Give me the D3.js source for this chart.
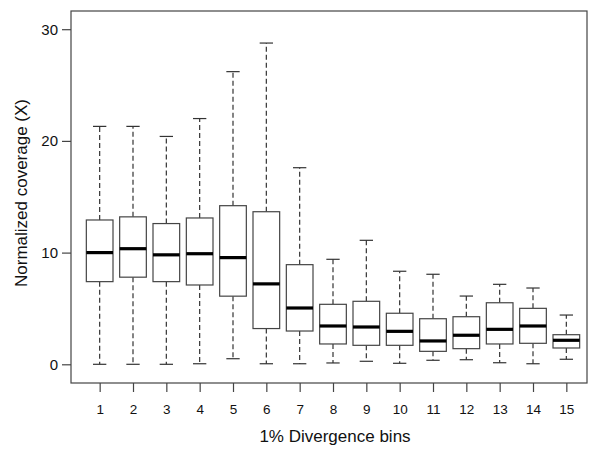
<!DOCTYPE html>
<html>
<head>
<meta charset="utf-8">
<script src="https://cdn.jsdelivr.net/npm/d3@7"></script>
<style>
  html, body { margin: 0; padding: 0; background: #fff; }
  svg { display: block; font-family: "Liberation Sans", Arial, sans-serif; }
</style>
</head>
<body>
<svg id="chart" width="600" height="452"></svg>
<script>
const bins      = [1, 2, 3, 4, 5, 6, 7, 8, 9, 10, 11, 12, 13, 14, 15];
const whiskLow  = [0.0, 0.0, 0.0, 0.05, 0.5, 0.05, 0.05, 0.12, 0.27, 0.09, 0.36, 0.41, 0.14, 0.05, 0.45];
const q1        = [7.4, 7.8, 7.4, 7.1, 6.1, 3.2, 2.98, 1.82, 1.7, 1.7, 1.16, 1.4, 1.82, 1.88, 1.46];
const medians   = [10.0, 10.35, 9.8, 9.9, 9.55, 7.2, 5.04, 3.43, 3.34, 2.95, 2.09, 2.6, 3.13, 3.43, 2.15];
const q3        = [12.92, 13.2, 12.6, 13.1, 14.2, 13.66, 8.92, 5.37, 5.64, 4.57, 4.08, 4.26, 5.51, 5.01, 2.65];
const whiskHigh = [21.3, 21.3, 20.4, 22.0, 26.2, 28.76, 17.6, 9.4, 11.1, 8.33, 8.06, 6.11, 7.16, 6.83, 4.41];
const yTicks    = [0, 10, 20, 30];
const xLabel    = "1% Divergence bins";
const yLabel    = "Normalized coverage (X)";

const data = bins.map((b, i) => ({
  bin: b, lo: whiskLow[i], q1: q1[i], med: medians[i], q3: q3[i], hi: whiskHigh[i]
}));

const svg = d3.select("#chart");
const plot = { left: 71, top: 11, right: 587, bottom: 383 };

const x = d3.scaleLinear().domain([0.14, 15.62]).range([plot.left, plot.right]);
const y = d3.scaleLinear().domain([0, 30]).range([364.3, 29.2]);
const step = x(2) - x(1);
const boxW = step * 0.8;
const capW = boxW / 2;

// frame
svg.append("rect")
  .attr("x", plot.left).attr("y", plot.top)
  .attr("width", plot.right - plot.left).attr("height", plot.bottom - plot.top)
  .attr("fill", "none").attr("stroke", "#444").attr("stroke-width", 1.2);

// y axis
const yAxis = svg.append("g")
  .attr("transform", `translate(${plot.left},0)`)
  .call(d3.axisLeft(y).tickValues(yTicks).tickSize(9).tickPadding(4).tickFormat(d3.format("d")));
yAxis.select(".domain").remove();
yAxis.selectAll(".tick line").attr("stroke", "#444").attr("stroke-width", 1.2);
yAxis.selectAll(".tick text").attr("font-size", 15).attr("fill", "#111");

// x axis
const xAxis = svg.append("g")
  .attr("transform", `translate(0,${plot.bottom})`)
  .call(d3.axisBottom(x).tickValues(bins).tickSize(9).tickPadding(12).tickFormat(d3.format("d")));
xAxis.select(".domain").remove();
xAxis.selectAll(".tick line").attr("stroke", "#444").attr("stroke-width", 1.2);
xAxis.selectAll(".tick text").attr("font-size", 13.5).attr("fill", "#111");

// axis titles
svg.append("text")
  .attr("x", (plot.left + plot.right) / 2 + 6).attr("y", 442)
  .attr("text-anchor", "middle").attr("font-size", 17).attr("fill", "#111")
  .text(xLabel);
svg.append("text")
  .attr("transform", `translate(27,${(plot.top + plot.bottom) / 2 - 4}) rotate(-90)`)
  .attr("text-anchor", "middle").attr("font-size", 17).attr("fill", "#111")
  .text(yLabel);

// boxes
const g = svg.append("g").selectAll("g").data(data).join("g");

// whiskers (dashed)
g.append("line")
  .attr("x1", d => x(d.bin)).attr("x2", d => x(d.bin))
  .attr("y1", d => y(d.q3)).attr("y2", d => y(d.hi))
  .attr("stroke", "#333").attr("stroke-width", 1.2).attr("stroke-dasharray", "5,3");
g.append("line")
  .attr("x1", d => x(d.bin)).attr("x2", d => x(d.bin))
  .attr("y1", d => y(d.q1)).attr("y2", d => y(d.lo))
  .attr("stroke", "#333").attr("stroke-width", 1.2).attr("stroke-dasharray", "5,3");
// caps
g.append("line")
  .attr("x1", d => x(d.bin) - capW / 2).attr("x2", d => x(d.bin) + capW / 2)
  .attr("y1", d => y(d.hi)).attr("y2", d => y(d.hi))
  .attr("stroke", "#333").attr("stroke-width", 1.2);
g.append("line")
  .attr("x1", d => x(d.bin) - capW / 2).attr("x2", d => x(d.bin) + capW / 2)
  .attr("y1", d => y(d.lo)).attr("y2", d => y(d.lo))
  .attr("stroke", "#333").attr("stroke-width", 1.2);
// box
g.append("rect")
  .attr("x", d => x(d.bin) - boxW / 2).attr("width", boxW)
  .attr("y", d => y(d.q3)).attr("height", d => y(d.q1) - y(d.q3))
  .attr("fill", "#fff").attr("stroke", "#444").attr("stroke-width", 1.2);
// median
g.append("line")
  .attr("x1", d => x(d.bin) - boxW / 2).attr("x2", d => x(d.bin) + boxW / 2)
  .attr("y1", d => y(d.med)).attr("y2", d => y(d.med))
  .attr("stroke", "#000").attr("stroke-width", 3.2);
</script>
</body>
</html>
